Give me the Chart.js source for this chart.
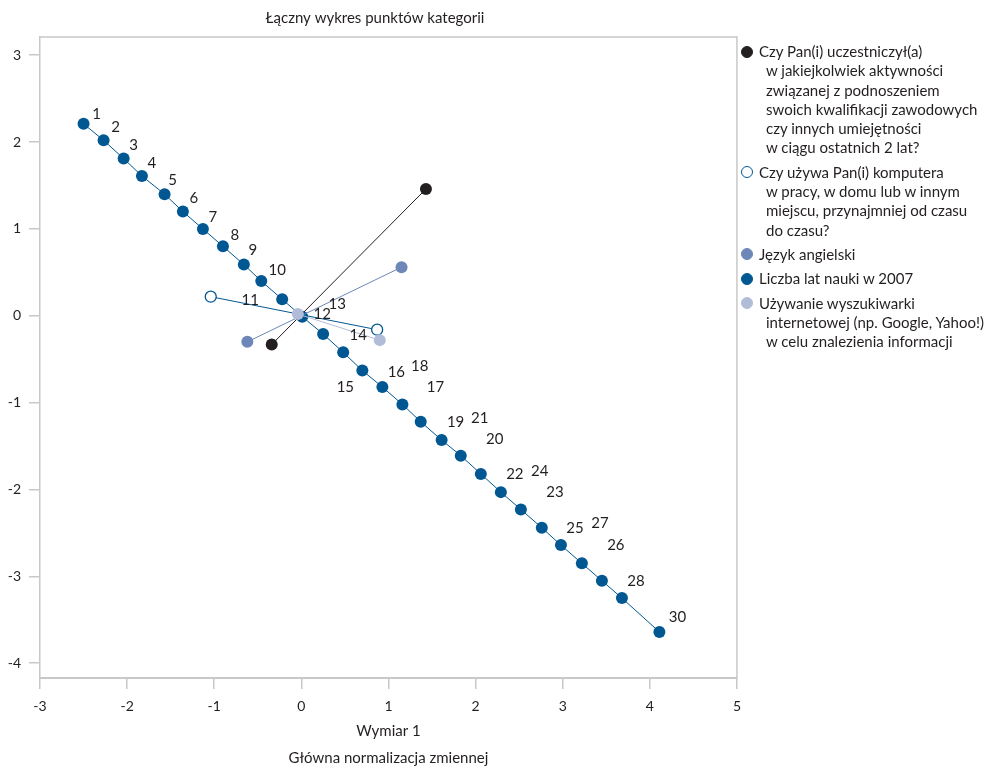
<!DOCTYPE html>
<html lang="pl">
<head>
<meta charset="utf-8">
<title>Łączny wykres punktów kategorii</title>
<script src="https://cdn.jsdelivr.net/npm/chart.js@4.4.0/dist/chart.umd.min.js"></script>
<style>
  html, body { margin: 0; padding: 0; background: #fff; }
  #wrap { position: relative; width: 993px; height: 769px; font-family: Lato, 'Open Sans', sans-serif; color: #231f20; }
  #plot { position: absolute; left: 0; top: 0; width: 750px; height: 769px; }
  #legend { position: absolute; left: 740px; top: 42px; width: 253px; font-size: 15px; line-height: 19.3px; }
  .entry { position: relative; padding-left: 26px; text-indent: -7px; margin-bottom: 5px; white-space: nowrap; }
  .mark { position: absolute; left: 1px; top: 3.5px; width: 12px; height: 12px; border-radius: 50%; box-sizing: border-box; }
</style>
</head>
<body>
<div id="wrap">
  <div id="plot"><canvas id="chart"></canvas></div>
  <div id="legend"></div>
</div>
<script>
  // Liczba lat nauki w 2007 - kategorie 1..30 (29 brak)
  const yearLabels = ['1','2','3','4','5','6','7','8','9','10','11','12','13','14','15',
                      '16','17','18','19','20','21','22','23','24','25','26','27','28','30'];
  const yearX = [-2.50, -2.27, -2.04, -1.83, -1.57, -1.36, -1.13, -0.90, -0.66, -0.46,
                 -0.22, 0.01, 0.25, 0.48, 0.70, 0.93, 1.16, 1.37, 1.61, 1.83,
                 2.06, 2.29, 2.52, 2.76, 2.98, 3.22, 3.45, 3.68, 4.11];
  const yearY = [2.21, 2.02, 1.81, 1.61, 1.40, 1.20, 1.00, 0.80, 0.59, 0.40,
                 0.19, -0.01, -0.21, -0.42, -0.63, -0.82, -1.02, -1.22, -1.43, -1.61,
                 -1.82, -2.03, -2.23, -2.44, -2.64, -2.85, -3.05, -3.25, -3.64];

  // pytania tak/nie
  const trainingX = [1.43, -0.34];
  const trainingY = [1.46, -0.33];
  const computerX = [-1.04, 0.87];
  const computerY = [0.22, -0.16];
  const englishX = [1.15, -0.62];
  const englishY = [0.56, -0.30];
  const searchX = [-0.04, 0.90];
  const searchY = [0.02, -0.28];

  const yTicks = [-4, -3, -2, -1, 0, 1, 2, 3];

  // przesunięcie etykiet numerów (px) wzgledem punktu
  const labelShift = [
    [13,-10],[12,-13],[10,-13],[10,-13],[8,-14],[11,-13],[10,-12],[12,-11],[9,-14],[16,-11],
    [-32,1],[20,-3],[14,-30],[15,-17],[-17,17],[14,-15],[33,-17],[-1,-56],[14,-18],[34,-16],
    [-1,-56],[14,-18],[34,-17],[-2,-57],[14,-17],[34,-18],[-2,-58],[14,-17],[18,-15]
  ];

  const C_BLACK = '#231f20', C_DARK = '#005792', C_MID = '#6d87b8', C_LIGHT = '#b1bdd8';

  const legendItems = [
    { text: 'Czy Pan(i) uczestniczył(a)<br>w jakiejkolwiek aktywności<br>związanej z podnoszeniem<br>swoich kwalifikacji zawodowych<br>czy innych umiejętności<br>w ciągu ostatnich 2 lat?', fill: C_BLACK, stroke: C_BLACK },
    { text: 'Czy używa Pan(i) komputera<br>w pracy, w domu lub w innym<br>miejscu, przynajmniej od czasu<br>do czasu?', fill: '#fff', stroke: C_DARK },
    { text: 'Język angielski', fill: C_MID, stroke: C_MID },
    { text: 'Liczba lat nauki w 2007', fill: C_DARK, stroke: C_DARK },
    { text: 'Używanie wyszukiwarki<br>internetowej (np. Google, Yahoo!)<br>w celu znalezienia informacji', fill: C_LIGHT, stroke: C_LIGHT }
  ];

  const pts = (xs, ys) => xs.map((x, i) => ({ x, y: ys[i] }));

  function series(data, color, order, fill, radius) {
    return {
      data, order, showLine: true,
      borderColor: color, borderWidth: 1,
      pointRadius: radius || 6, pointHoverRadius: radius || 6,
      pointBackgroundColor: fill || color,
      pointBorderColor: color,
      pointBorderWidth: fill ? 1.3 : 0
    };
  }

  const frame = {
    id: 'frame',
    beforeDatasetsDraw(chart) {
      const { ctx, chartArea: a } = chart;
      ctx.save();
      ctx.strokeStyle = '#c8c8c8';
      ctx.lineWidth = 1.5;
      ctx.beginPath();
      ctx.moveTo(a.left, a.top);
      ctx.lineTo(a.right, a.top);
      ctx.lineTo(a.right, a.bottom);
      ctx.stroke();
      ctx.restore();
    }
  };

  const pointNumbers = {
    id: 'pointNumbers',
    afterDatasetsDraw(chart) {
      const ctx = chart.ctx;
      const meta = chart.getDatasetMeta(3);
      ctx.save();
      ctx.font = '15px Lato, sans-serif';
      ctx.fillStyle = C_BLACK;
      ctx.textAlign = 'center';
      ctx.textBaseline = 'middle';
      meta.data.forEach((el, i) => {
        const [dx, dy] = labelShift[i];
        ctx.fillText(yearLabels[i], el.x + dx, el.y + dy);
      });
      ctx.restore();
    }
  };

  const captions = {
    id: 'captions',
    afterDraw(chart) {
      const { ctx, chartArea: a } = chart;
      const cx = (a.left + a.right) / 2;
      ctx.save();
      ctx.font = '15px Lato, sans-serif';
      ctx.fillStyle = C_BLACK;
      ctx.textAlign = 'center';
      ctx.textBaseline = 'middle';
      ctx.fillText('Wymiar 1', cx, a.bottom + 53);
      ctx.fillText('Główna normalizacja zmiennej', cx, a.bottom + 80);
      ctx.restore();
    }
  };

  new Chart(document.getElementById('chart'), {
    type: 'scatter',
    data: {
      datasets: [
        series(pts(trainingX, trainingY), C_BLACK, 1),
        series(pts(computerX, computerY), C_DARK, 2, '#fff', 5.5),
        series(pts(englishX, englishY), C_MID, 3),
        series(pts(yearX, yearY), C_DARK, 4),
        series(pts(searchX, searchY), C_LIGHT, 0)
      ]
    },
    options: {
      responsive: true,
      maintainAspectRatio: false,
      animation: false,
      layout: { padding: { left: 0, right: 0, top: 0, bottom: 0 } },
      plugins: {
        legend: { display: false },
        tooltip: { enabled: false },
        title: {
          display: true,
          text: 'Łączny wykres punktów kategorii',
          color: C_BLACK,
          font: { family: 'Lato', size: 15, weight: 'normal', lineHeight: 1.2 },
          padding: { top: 9, bottom: 10 }
        }
      },
      scales: {
        x: {
          type: 'linear', min: -3, max: 5,
          afterFit: s => { s.height = 91; },
          ticks: { stepSize: 1, color: C_BLACK, padding: 9, font: { family: 'Lato', size: 14 } },
          grid: { drawOnChartArea: false, color: '#c8c8c8', lineWidth: 1.5, tickLength: 11 },
          border: { color: '#c8c8c8', width: 2 }
        },
        y: {
          type: 'linear', min: -4.17, max: 3.21,
          afterFit: s => { s.width = 40; },
          afterBuildTicks: s => { s.ticks = yTicks.map(v => ({ value: v })); },
          ticks: { color: C_BLACK, padding: 8, font: { family: 'Lato', size: 14 } },
          grid: { drawOnChartArea: false, color: '#c8c8c8', lineWidth: 1.5, tickLength: 11 },
          border: { color: '#c8c8c8', width: 1.5 }
        }
      }
    },
    plugins: [frame, pointNumbers, captions]
  });

  document.getElementById('legend').innerHTML = legendItems.map(it =>
    `<div class="entry"><span class="mark" style="background:${it.fill};border:1.3px solid ${it.stroke}"></span>${it.text}</div>`
  ).join('');
</script>
</body>
</html>
